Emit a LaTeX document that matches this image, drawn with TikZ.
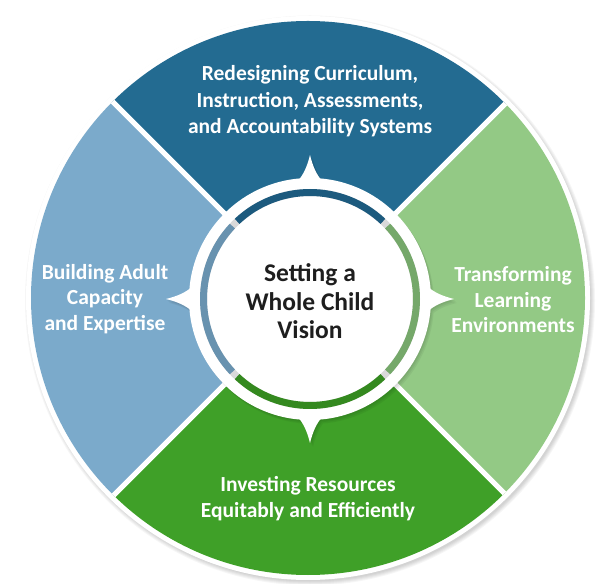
\documentclass[tikz,border=0pt]{standalone}
\usepackage{fontspec}
\setmainfont{Carlito}
\definecolor{cTop}{RGB}{35,107,145}
\definecolor{cLeft}{RGB}{123,170,203}
\definecolor{cRight}{RGB}{147,201,133}
\definecolor{cBot}{RGB}{63,160,40}
\definecolor{rTop}{RGB}{28,90,126}
\definecolor{rLeft}{RGB}{104,146,175}
\definecolor{rRight}{RGB}{117,168,106}
\definecolor{rBot}{RGB}{52,137,31}
\definecolor{rGap}{RGB}{217,217,217}
\definecolor{ink}{RGB}{30,30,30}
\tikzset{
  seglabel/.style={text=white,align=center,font=\bfseries\fontsize{21.5}{25.5}\selectfont,inner sep=0pt},
  toplabel/.style={seglabel,font=\bfseries\fontsize{21.5}{26.5}\selectfont},
  hublabel/.style={text=ink,align=center,font=\bfseries\fontsize{25.5}{28.5}\selectfont,inner sep=0pt},
  divider/.style={white,line width=5pt},
  ringarc/.style={line width=7pt},
}
\newcommand{\hubstar}{%
  (0,0) circle[radius=121]
  \foreach \a in {0,90,180,270}{
    [rotate=\a] (14,116) .. controls (6,124) and (2.5,134) .. (0,144)
     .. controls (-2.5,134) and (-6,124) .. (-14,116) -- cycle}
}
\begin{document}
\begin{tikzpicture}[x=1pt,y=1pt]
\useasboundingbox (0,0) rectangle (607,583);
\fill[white] (0,0) rectangle (607,583);
% outer shadow
\foreach \k in {1,2,3,4,5}{
  \fill[black,opacity=0.035] (310,282.5) circle[radius=280+\k];
}
\fill[white] (308,285) circle[radius=282];
\begin{scope}
  \clip (308,285) circle[radius=277];
  \coordinate (C) at (310,284);
  \fill[cTop] (C) -- ++(-400,400) -- ++(800,0) -- cycle;
  \fill[cBot] (C) -- ++(-400,-400) -- ++(800,0) -- cycle;
  \fill[cLeft] (C) -- ++(-400,400) -- ++(0,-800) -- cycle;
  \fill[cRight] (C) -- ++(400,400) -- ++(0,-800) -- cycle;
  \draw[divider] (C) -- ++(400,400);
  \draw[divider] (C) -- ++(-400,400);
  \draw[divider] (C) -- ++(400,-400);
  \draw[divider] (C) -- ++(-400,-400);
\end{scope}
\begin{scope}[shift={(310,284)}]
  \foreach \k in {1,2,3}{
    \begin{scope}[shift={(1.0*\k,-1.3*\k)}]
      \fill[black,opacity=0.05,nonzero rule] \hubstar;
    \end{scope}
  }
  \fill[white,nonzero rule] \hubstar;
  \draw[ringarc,rGap] (0,0) circle[radius=106.5];
  \draw[ringarc,rTop] (46.8:106.5) arc[start angle=46.8,end angle=133.2,radius=106.5];
  \draw[ringarc,rLeft] (136.8:106.5) arc[start angle=136.8,end angle=223.2,radius=106.5];
  \draw[ringarc,rBot] (226.8:106.5) arc[start angle=226.8,end angle=313.2,radius=106.5];
  \draw[ringarc,rRight] (316.8:106.5) arc[start angle=316.8,end angle=403.2,radius=106.5];
\end{scope}
\node[toplabel] (top) at (310,481.5) {Redesigning Curriculum,\\Instruction, Assessments,\\and Accountability Systems};
\node[seglabel] (bottom) at (308,84.5) {Investing Resources\\Equitably and Efficiently};
\node[seglabel] (left) at (105,284) {Building Adult\\Capacity\\and Expertise};
\node[seglabel] (right) at (513,283) {Transforming\\Learning\\Environments};
\node[hublabel] (hub) at (310,281.5) {Setting a\\Whole Child\\Vision};
\end{tikzpicture}
\end{document}
